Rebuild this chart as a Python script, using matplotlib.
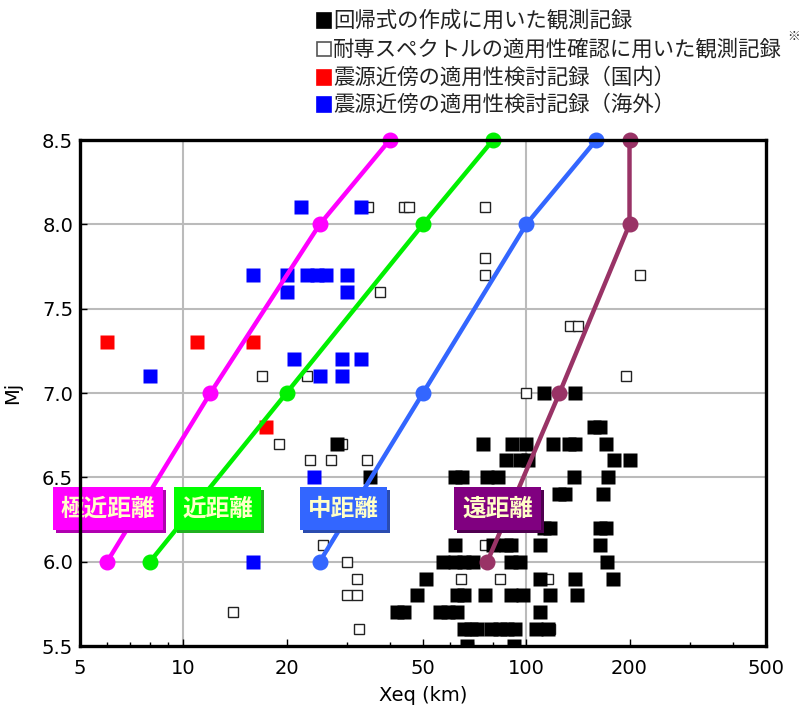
import numpy as np
import matplotlib
matplotlib.use("Agg")
import matplotlib.pyplot as plt
from matplotlib.patches import Rectangle

plt.rcParams['font.family'] = ['Noto Sans CJK JP', 'DejaVu Sans']

# ------------------------------------------------------------
# Observation records (Xeq in km, Mj)

# records used to build the regression (filled black)
reg_xeq = [113, 139,
           158, 164,
           28, 75, 91, 100, 120, 133, 139, 171,
           87, 96, 101, 180, 200,
           35, 62, 65, 77, 83, 138, 173,
           125, 130, 167,
           113, 117, 164, 171,
           62, 80, 87, 90, 110, 164,
           57, 62, 66, 70, 90, 96, 172,
           51, 110, 139, 179,
           48, 63, 66, 76, 90, 98, 117, 141,
           42, 44, 56, 59, 63, 110,
           66, 69, 72, 79, 84, 88, 93, 107, 116,
           67, 92]
reg_mj = [7.0] * 2 + [6.8] * 2 + [6.7] * 8 + [6.6] * 5 + [6.5] * 7 + [6.4] * 3 \
    + [6.2] * 4 + [6.1] * 6 + [6.0] * 7 + [5.9] * 4 + [5.8] * 8 + [5.7] * 6 \
    + [5.6] * 9 + [5.5] * 2

# records used to check the Taisen spectrum (open squares)
taisen_xeq = [34.5, 44, 45.5, 76, 76, 76, 215, 37.5, 134, 142, 17, 23, 195, 100,
              19, 29, 23.4, 27, 34.3, 25.5, 76, 30, 32, 64.5, 84, 116, 30, 32,
              14, 32.6, 117]
taisen_mj = [8.1, 8.1, 8.1, 8.1, 7.8, 7.7, 7.7, 7.6, 7.4, 7.4, 7.1, 7.1, 7.1, 7.0,
             6.7, 6.7, 6.6, 6.6, 6.6, 6.1, 6.1, 6.0, 5.9, 5.9, 5.9, 5.9, 5.8, 5.8,
             5.7, 5.6, 5.6]

# near-source records, domestic (red)
dom_xeq = [6, 11, 16, 17.4]
dom_mj = [7.3, 7.3, 7.3, 6.8]

# near-source records, overseas (blue)
ovs_xeq = [22, 33, 16, 20, 23, 24.5, 26, 30, 20, 30, 21, 29, 33, 8, 25, 29, 24, 16]
ovs_mj = [8.1, 8.1, 7.7, 7.7, 7.7, 7.7, 7.7, 7.7, 7.6, 7.6, 7.2, 7.2, 7.2,
          7.1, 7.1, 7.1, 6.5, 6.0]

# distance ranges of the Taisen spectrum
range_names = ['極近距離', '近距離', '中距離', '遠距離']
range_xeq = [[6, 12, 25, 40],
             [8, 20, 50, 80],
             [25, 50, 100, 160],
             [77, 125, 200, 200]]
range_mj = [6.0, 7.0, 8.0, 8.5]
range_colors = ['#FF00FF', '#00F000', '#3366FF', '#993366']

# label boxes (axes fraction: left, right) and their colours
box_x = [(-0.039, 0.121), (0.137, 0.264), (0.321, 0.448), (0.545, 0.672)]
box_face = ['#FF00FF', '#00FF00', '#3366FF', '#800080']
box_shade = ['#B000B0', '#20B020', '#2A4CB0', '#500050']

xticks = [5, 10, 20, 50, 100, 200, 500]
yticks = [5.5, 6.0, 6.5, 7.0, 7.5, 8.0, 8.5]

# ------------------------------------------------------------
# Figure

W, H = 802, 707
fig = plt.figure(figsize=(W / 100, H / 100), dpi=100)
ax = fig.add_axes([80 / W, 61 / H, 686 / W, 506 / H])

ax.set_xscale('log')
ax.set_xlim(5, 500)
ax.set_ylim(5.5, 8.5)

for xv in [10, 100]:
    ax.axvline(xv, color='#BBBBBB', lw=1.5, zorder=0)
for yv in [6.0, 6.5, 7.0, 7.5, 8.0]:
    ax.axhline(yv, color='#BBBBBB', lw=1.5, zorder=0)

ax.plot(taisen_xeq, taisen_mj, 's', ms=6.5, mfc='white', mec='#222222', mew=1.0,
        ls='none', zorder=2)
ax.plot(reg_xeq, reg_mj, 's', ms=9.4, mfc='black', mec='none', ls='none', zorder=3)
ax.plot(dom_xeq, dom_mj, 's', ms=9.4, mfc='#FF0000', mec='none', ls='none', zorder=3)
ax.plot(ovs_xeq, ovs_mj, 's', ms=9.4, mfc='#0000FF', mec='none', ls='none', zorder=3)

for xs, col in zip(range_xeq, range_colors):
    ax.plot(xs, range_mj, '-o', color=col, lw=3.2, ms=10.5, zorder=4, clip_on=False)

# label boxes with a drop shadow
dx, dy = 3 / 686, 3 / 506
y0, y1 = 0.229, 0.314
for name, (x0, x1), fc, sc in zip(range_names, box_x, box_face, box_shade):
    ax.add_patch(Rectangle((x0 + dx, y0 - dy), x1 - x0, y1 - y0, transform=ax.transAxes,
                           fc=sc, ec='none', zorder=5, clip_on=False))
    ax.add_patch(Rectangle((x0, y0), x1 - x0, y1 - y0, transform=ax.transAxes,
                           fc=fc, ec='none', zorder=6, clip_on=False))
    ax.text((x0 + x1) / 2, (y0 + y1) / 2, name, transform=ax.transAxes,
            ha='center', va='center', fontsize=17, fontweight='bold',
            color='#FFFFC8', zorder=7, clip_on=False)

# axes styling
for sp in ax.spines.values():
    sp.set_linewidth(2.4)
    sp.set_zorder(8)

ax.set_xticks(xticks)
ax.set_xticklabels([str(v) for v in xticks])
ax.set_xticks([6, 7, 8, 9, 30, 40, 60, 70, 80, 90, 300, 400], minor=True)
ax.xaxis.set_minor_formatter(matplotlib.ticker.NullFormatter())
ax.set_yticks(yticks)
ax.set_yticklabels(['%.1f' % v for v in yticks])
ax.tick_params(which='major', direction='in', length=5, width=1, labelsize=14)
ax.tick_params(which='minor', direction='in', length=3, width=1)
ax.tick_params(axis='x', pad=9)
ax.tick_params(axis='y', pad=5)
for lab in ax.get_xticklabels() + ax.get_yticklabels():
    lab.set_family('DejaVu Sans')

ax.set_xlabel('Xeq (km)', fontsize=14, labelpad=6, family='DejaVu Sans')
ax.set_ylabel('Mj', fontsize=14, labelpad=14, family='DejaVu Sans')

# legend drawn in figure pixels
legend_rows = [('black', 'black', '回帰式の作成に用いた観測記録', 20.5),
               ('white', '#555555', '耐専スペクトルの適用性確認に用いた観測記録', 49),
               ('#FF0000', '#FF0000', '震源近傍の適用性検討記録（国内）', 77.5),
               ('#0000FF', '#0000FF', '震源近傍の適用性検討記録（海外）', 104.5)]
for fc, ec, txt, yc in legend_rows:
    fig.patches.append(Rectangle((317 / W, 1 - (yc + 7) / H), 14 / W, 14 / H,
                                 transform=fig.transFigure, fc=fc, ec=ec, lw=1.2))
    fig.text(333 / W, 1 - yc / H, txt, ha='left', va='center', fontsize=15.4,
             color='#222222')
fig.text(787 / W, 1 - 37 / H, '※', ha='left', va='center', fontsize=9, color='#222222')

fig.savefig('out.png', dpi=100)
